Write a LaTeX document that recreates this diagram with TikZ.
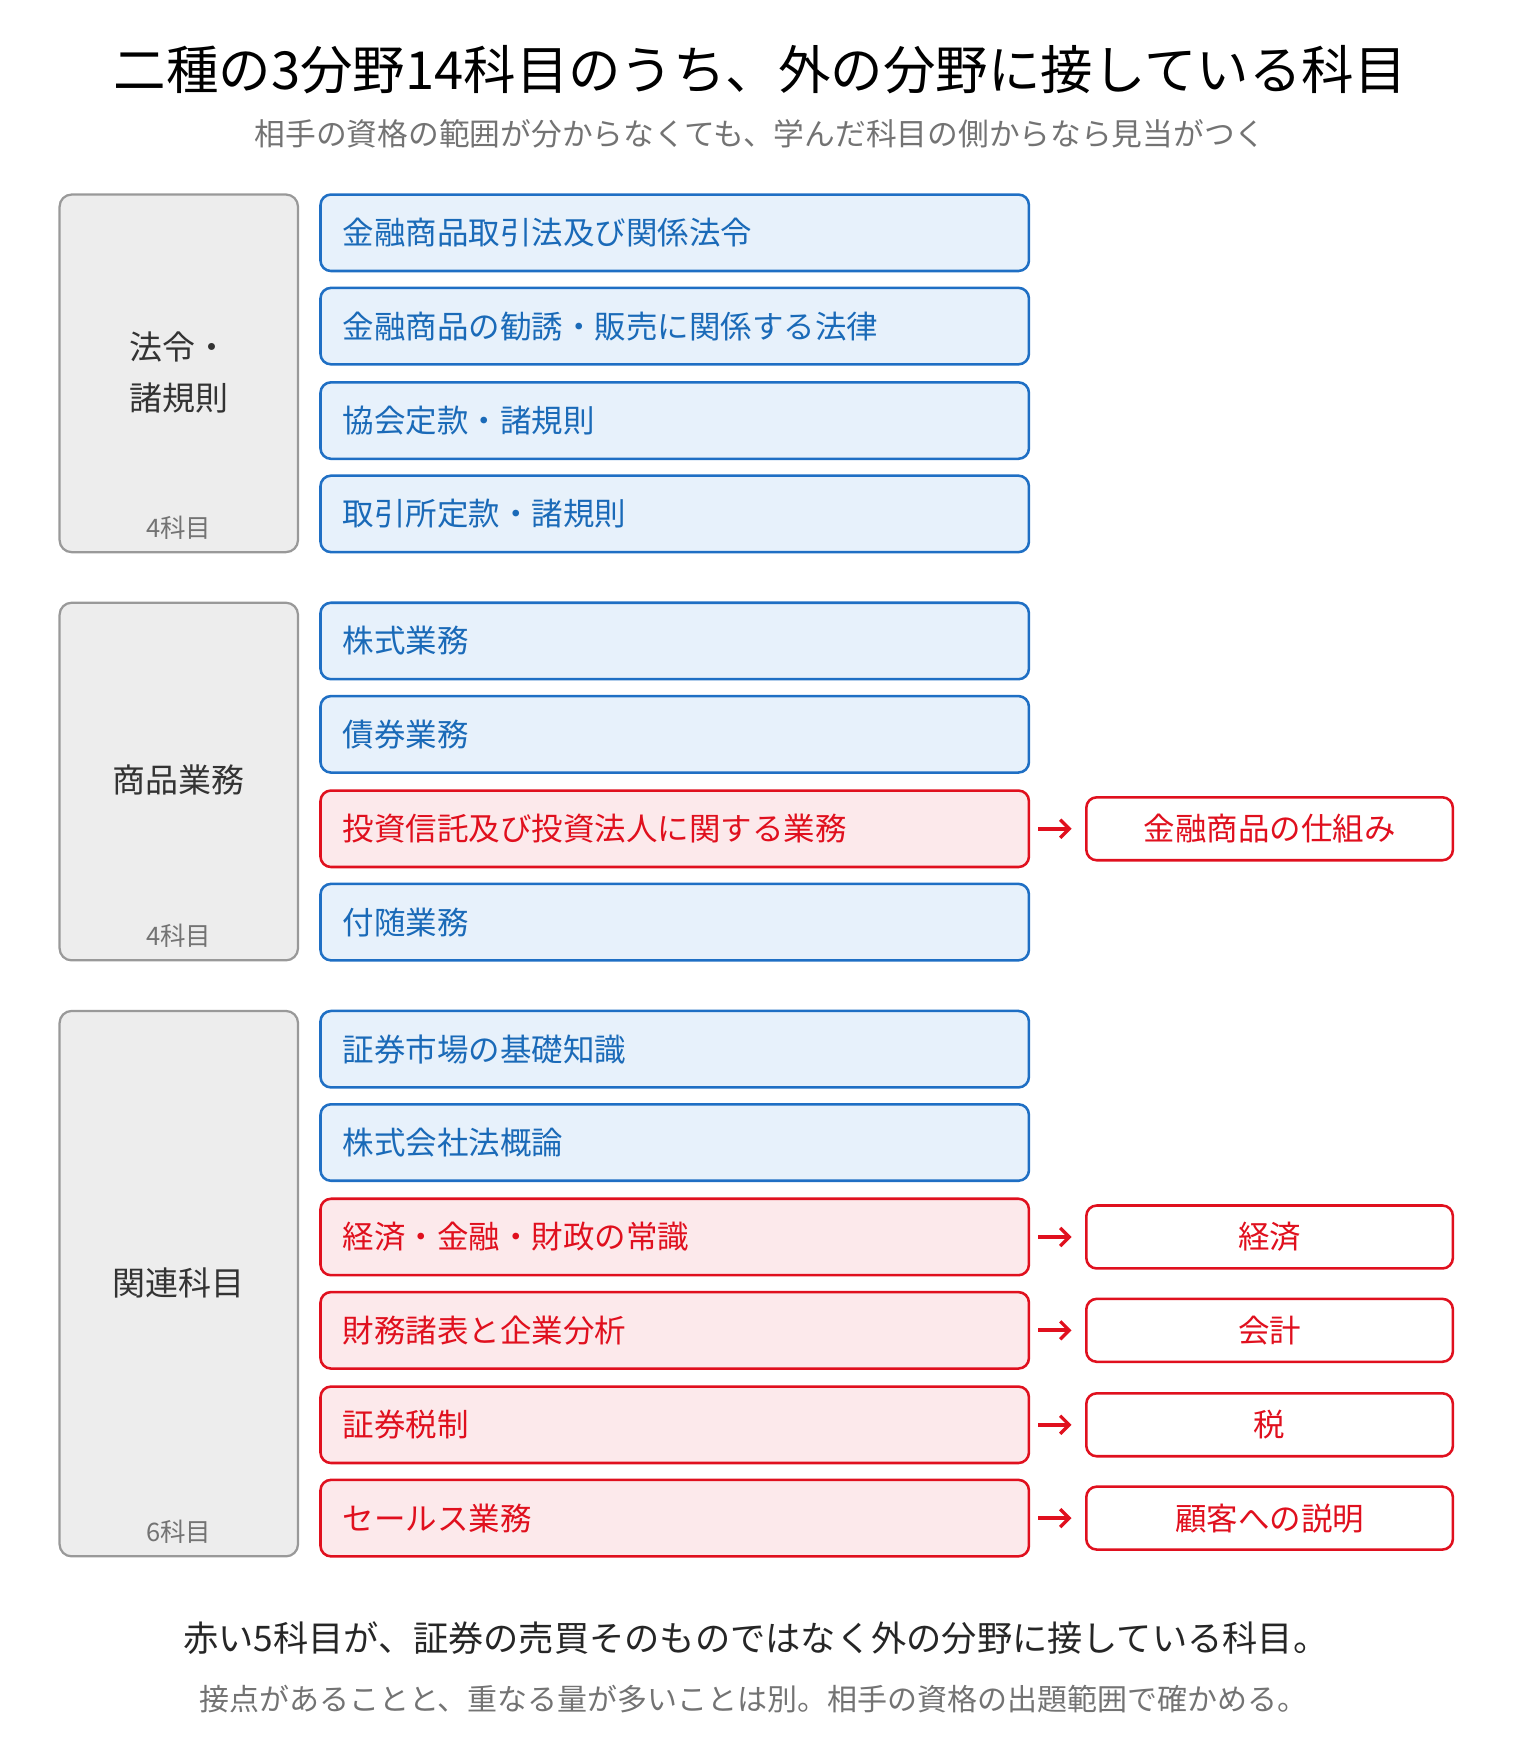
\documentclass[tikz,border=0pt]{standalone}
\usepackage{fontspec}
\setmainfont{Noto Sans CJK JP}
\usetikzlibrary{arrows.meta}
\definecolor{bstroke}{HTML}{1F6FC4}
\definecolor{btext}{HTML}{1A6AB8}
\definecolor{bfill}{HTML}{E7F1FB}
\definecolor{rstroke}{HTML}{E0101E}
\definecolor{rfill}{HTML}{FCE9EB}
\begin{document}
\begin{tikzpicture}[x=0.75pt,y=-0.75pt,
  grp/.style={draw=black!40,fill=black!7,line width=1.5pt,rounded corners=8pt},
  sb/.style={draw=bstroke,fill=bfill,line width=1.7pt,rounded corners=7pt,minimum width=630*0.75pt,minimum height=68*0.75pt,text width=590*0.75pt,align=left,font=\fontsize{21}{25}\selectfont,text=btext,inner sep=0pt},
  rb/.style={sb,draw=rstroke,fill=rfill,text=rstroke},
  ob/.style={draw=rstroke,fill=white,line width=1.7pt,rounded corners=7pt,minimum width=326*0.75pt,minimum height=56*0.75pt,font=\fontsize{21}{25}\selectfont,text=rstroke},
  ar/.style={-{Straight Barb[length=6pt,width=12pt,line width=2.2pt]},line width=2.6pt,rstroke},
  gl/.style={font=\fontsize{22}{34}\selectfont,align=center,text=black!80},
  gc/.style={font=\fontsize{17}{20}\selectfont,text=black!55}]
\useasboundingbox (0,0) rectangle (1352,1566);
\node (title) at (676,62) {\fontsize{35}{42}\selectfont 二種の3分野14科目のうち、外の分野に接している科目};
\node[text=black!55] (sub) at (676,119) {\fontsize{20.5}{24}\selectfont 相手の資格の範囲が分からなくても、学んだ科目の側からなら見当がつく};
\draw[grp] (53,173) rectangle (265,491);
\draw[grp] (53,536) rectangle (265,854);
\draw[grp] (53,899) rectangle (265,1384);
\node[gl] (g1) at (159,331) {法令・\\諸規則};
\node[gc] (c1) at (159,469) {4科目};
\node[gl] (g2) at (159,694) {商品業務};
\node[gc] (c2) at (159,832) {4科目};
\node[gl] (g3) at (159,1141) {関連科目};
\node[gc] (c3) at (159,1362) {6科目};
\node[sb] (s1) at (600,207) {金融商品取引法及び関係法令};
\node[sb] (s2) at (600,290) {金融商品の勧誘・販売に関係する法律};
\node[sb] (s3) at (600,374) {協会定款・諸規則};
\node[sb] (s4) at (600,457) {取引所定款・諸規則};
\node[sb] (s5) at (600,570) {株式業務};
\node[sb] (s6) at (600,653) {債券業務};
\node[rb] (s7) at (600,737) {投資信託及び投資法人に関する業務};
\node[sb] (s8) at (600,820) {付随業務};
\node[sb] (s9) at (600,933) {証券市場の基礎知識};
\node[sb] (s10) at (600,1016) {株式会社法概論};
\node[rb] (s11) at (600,1100) {経済・金融・財政の常識};
\node[rb] (s12) at (600,1183) {財務諸表と企業分析};
\node[rb] (s13) at (600,1267) {証券税制};
\node[rb] (s14) at (600,1350) {セールス業務};
\node[ob] (o1) at (1129,737) {金融商品の仕組み};
\node[ob] (o2) at (1129,1100) {経済};
\node[ob] (o3) at (1129,1183) {会計};
\node[ob] (o4) at (1129,1267) {税};
\node[ob] (o5) at (1129,1350) {顧客への説明};
\foreach \a/\b in {s7/o1,s11/o2,s12/o3,s13/o4,s14/o5}
  \draw[ar] ([xshift=7*0.75pt]\a.east) -- ([xshift=-12*0.75pt]\b.west);
\node[text=black!85] (f1) at (672,1457) {\fontsize{23.5}{28}\selectfont 赤い5科目が、証券の売買そのものではなく外の分野に接している科目。};
\node[text=black!55] (f2) at (670,1511) {\fontsize{20}{24}\selectfont 接点があることと、重なる量が多いことは別。相手の資格の出題範囲で確かめる。};
\end{tikzpicture}
\end{document}
